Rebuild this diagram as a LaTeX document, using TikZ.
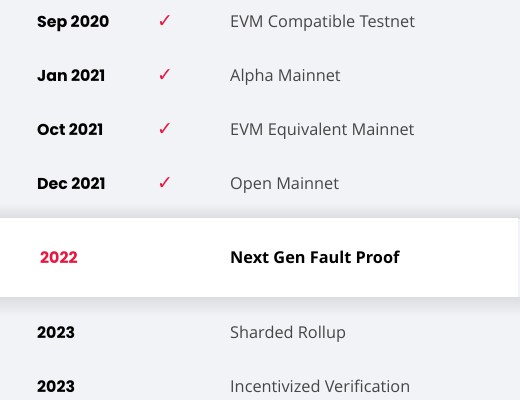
\documentclass[tikz,border=0pt]{standalone}
\usepackage{fontspec}
\setmainfont{Open Sans}
\newfontfamily\datefont{Poppins}
\newfontfamily\symfont{DejaVu Sans}
\definecolor{bg}{HTML}{F2F3F7}
\definecolor{shade}{HTML}{DCDDE1}
\definecolor{opred}{HTML}{E8173F}
\definecolor{txt}{HTML}{464646}
\tikzset{
  date/.style={anchor=base west, font=\datefont\bfseries\fontsize{15.8}{18}\selectfont, text=black, inner sep=0pt},
  tick/.style={anchor=center, font=\symfont\fontsize{19}{21}\selectfont, text=opred, inner sep=0pt},
  item/.style={anchor=base west, font=\fontsize{16.3}{19}\selectfont, text=txt, inner sep=0pt},
}
\begin{document}
\begin{tikzpicture}[x=1pt,y=-1pt]
\useasboundingbox (0,0) rectangle (520,400);
\fill[bg] (0,0) rectangle (520,400);
\shade[top color=bg, bottom color=shade] (0,203) rectangle (520,218);
\shade[top color=shade, bottom color=bg] (0,297) rectangle (520,316);
\fill[white] (0,218) rectangle (518,297);
\node[date] (d1) at (37,27) {Sep 2020};
\node[date] (d2) at (37,81) {Jan 2021};
\node[date] (d3) at (37,135) {Oct 2021};
\node[date] (d4) at (37,189) {Dec 2021};
\node[date, text=opred] (d5) at (40,263.5) {2022};
\node[date] (d6) at (37,338) {2023};
\node[date] (d7) at (37,392) {2023};
\node[tick] (t1) at (165,21.5) {✓};
\node[tick] (t2) at (165,75.5) {✓};
\node[tick] (t3) at (165,129.5) {✓};
\node[tick] (t4) at (165,183.5) {✓};
\node[item] (i1) at (230,27) {EVM Compatible Testnet};
\node[item] (i2) at (230,81) {Alpha Mainnet};
\node[item] (i3) at (230,135) {EVM Equivalent Mainnet};
\node[item] (i4) at (230,189) {Open Mainnet};
\node[item, font=\bfseries\fontsize{16.3}{19}\selectfont, text=black] (i5) at (230,263.5) {Next Gen Fault Proof};
\node[item] (i6) at (230,338) {Sharded Rollup};
\node[item] (i7) at (230,392) {Incentivized Verification};
\end{tikzpicture}
\end{document}
